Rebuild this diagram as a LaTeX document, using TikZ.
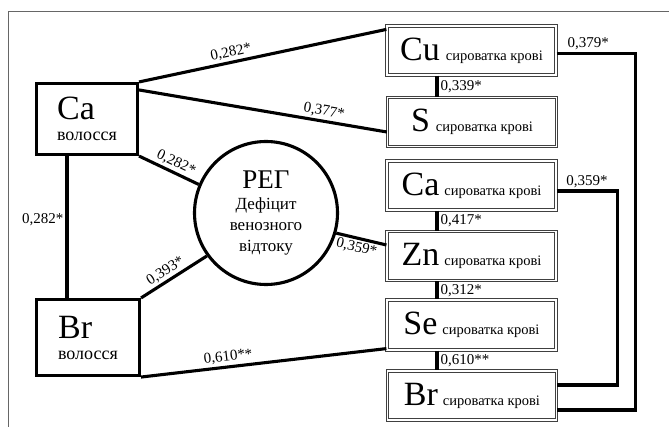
\documentclass[tikz,border=0pt]{standalone}
\usepackage{fontspec}
\setmainfont{Liberation Serif}
\usetikzlibrary{calc}
\newcommand\elfont{\fontsize{34}{34}\selectfont}
\newcommand\subfnt{\fontsize{14.5}{16}\selectfont}
\newcommand\hairfnt{\fontsize{18}{21}\selectfont}
\begin{document}
\begin{tikzpicture}[x=1pt,y=-1pt,
  conn/.style={line width=3.1pt},
  hairbox/.style={draw, line width=3.1pt, inner sep=0pt, align=left, font=\hairfnt},
  serbox/.style={draw=black!75, double=white, double distance=1.4pt, line width=1.2pt,
     minimum width=169pt, minimum height=49pt, inner sep=0pt},
  lab/.style={font=\fontsize{15}{15}\selectfont, inner sep=2pt},
  frame/.style={draw=black!60, line width=0.7pt}
]
\useasboundingbox (0,0) rectangle (669,427);
\draw[frame] (669,11) -- (8,11) -- (8,427);

% hair boxes
\node[hairbox, minimum width=101pt, minimum height=71pt] (cah) at (87,119)
  {{\elfont Ca}\\волосся};
\node[hairbox, minimum width=103pt, minimum height=76pt] (brh) at (88,337.5)
  {{\elfont Br}\\волосся};

% circle
\node[circle, draw, line width=3.1pt, minimum size=143pt, inner sep=0pt, align=center,
  font=\fontsize{17}{21}\selectfont] (reg) at (266,213)
  {{\fontsize{27}{21}\selectfont РЕГ}\\Дефіцит\\венозного\\відтоку};

% serum boxes
\node[serbox] (cu) at (471.5,50.5) {{\elfont Cu}\hspace{6pt}{\subfnt сироватка крові}};
\node[serbox] (s)  at (472,122)    {{\elfont S}\hspace{6pt}{\subfnt сироватка крові}};
\node[serbox] (cas) at (471.5,185.5) {{\elfont Ca}\hspace{5pt}{\subfnt сироватка крові}};
\node[serbox] (zn) at (471.5,256)  {{\elfont Zn}\hspace{5pt}{\subfnt сироватка крові}};
\node[serbox, minimum height=50pt] (se) at (471.5,325) {{\elfont Se}\hspace{5pt}{\subfnt сироватка крові}};
\node[serbox] (brs) at (472,395.5) {{\elfont Br}\hspace{5pt}{\subfnt сироватка крові}};

\coordinate (vx) at (437,0);
\coordinate (cahx) at (67,0);

% left connectors
\draw[conn] (cah.south -| cahx) -- node[lab, left, pos=0.45] {0,282*} (brh.north -| cahx);
\draw[conn] (cah.north east) -- node[lab, sloped, above, pos=0.38] {0,282*} ($(cu.north west)+(0,4)$);
\draw[conn] ($(cah.north east)+(0,8)$) -- node[lab, sloped, above, pos=0.74] {0,377*} ($(s.west)+(0,10)$);
\draw[conn] (cah.south east) -- node[lab, sloped, above, pos=0.55] {0,282*} (reg.157);
\draw[conn] (brh.north east) -- node[lab, sloped, above, pos=0.45] {0,393*} (reg.216);
\draw[conn] (reg.-16) -- node[lab, sloped, below, pos=0.45] {0,359*} ($(zn.west)+(0,-11)$);
\draw[conn] (brh.south east) -- node[lab, sloped, above, pos=0.36] {0,610**} ($(se.south west)+(0,-2)$);

% vertical right connectors
\draw[conn] (cu.south -| vx) -- node[lab, right, pos=0.5] {0,339*} (s.north -| vx);
\draw[conn] (cas.south -| vx) -- node[lab, right, pos=0.5] {0,417*} (zn.north -| vx);
\draw[conn] (zn.south -| vx) -- node[lab, right, pos=0.5] {0,312*} (se.north -| vx);
\draw[conn] (se.south -| vx) -- node[lab, right, pos=0.5] {0,610**} (brs.north -| vx);

% loops on the right
\draw[conn] ($(cu.east)+(0,3)$) -- node[lab, above, pos=0.4] {0,379*} ++(79,0) |- ($(brs.east)+(0,14.5)$);
\draw[conn] ($(cas.east)+(0,5.5)$) -- node[lab, above, pos=0.5] {0,359*} ++(61,0) |- ($(brs.east)+(0,-10.5)$);
\end{tikzpicture}
\end{document}
